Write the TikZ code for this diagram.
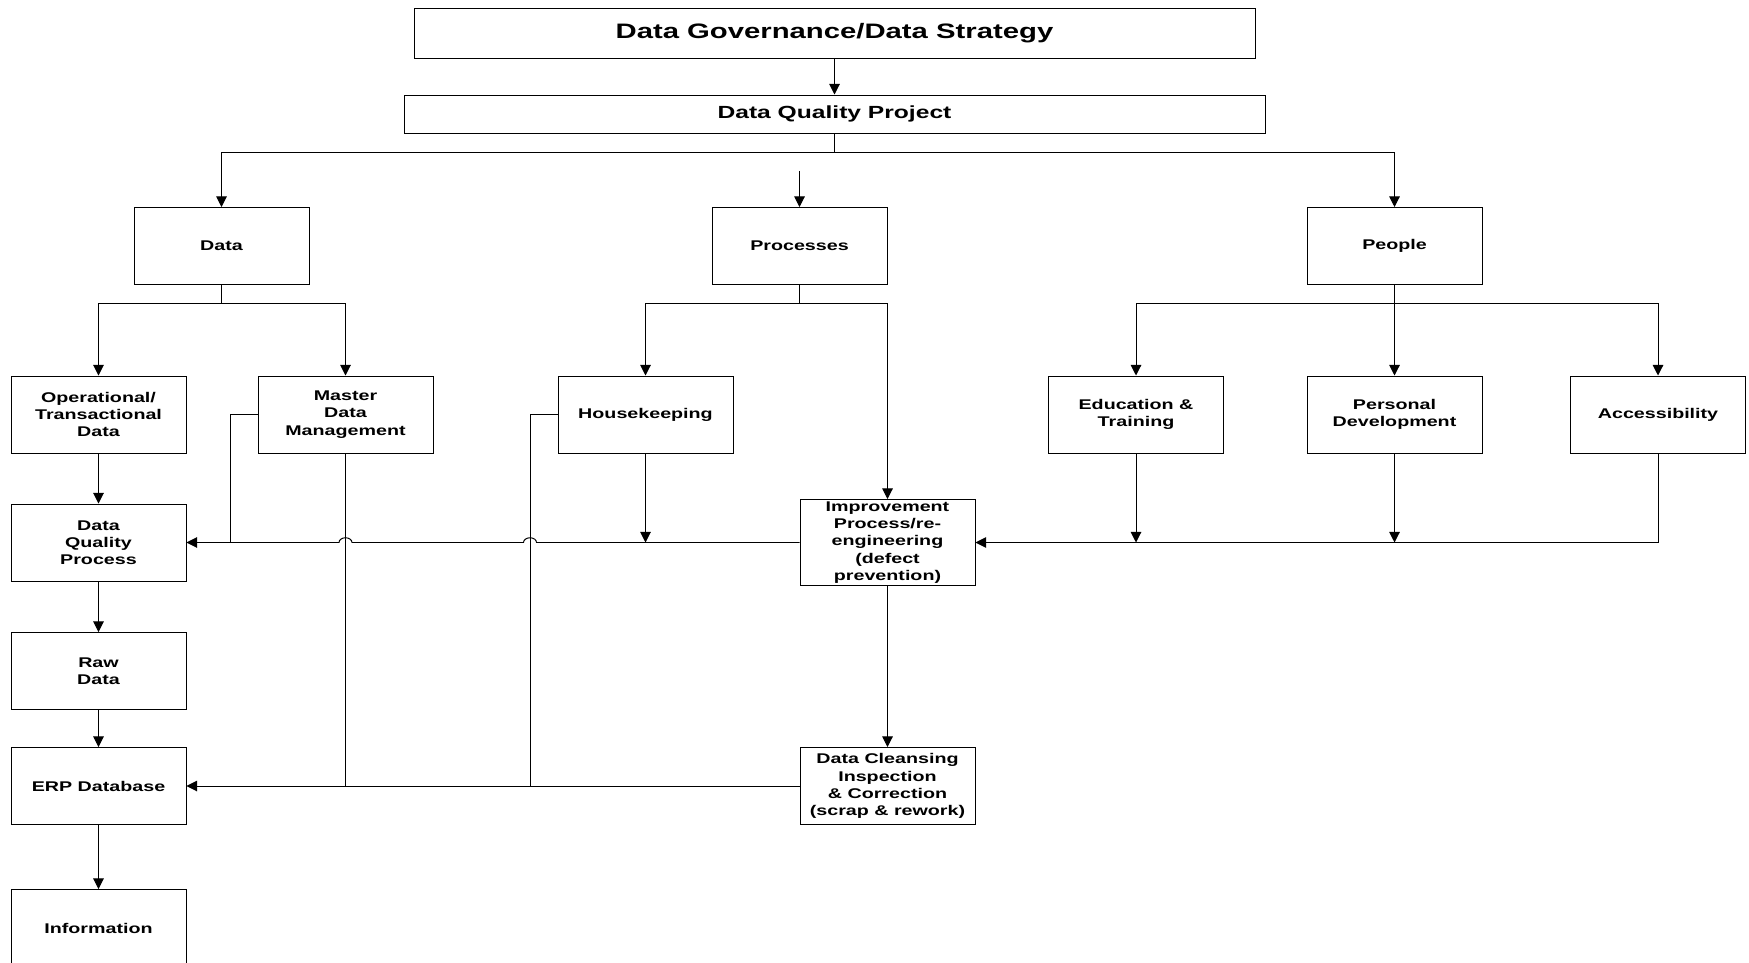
\documentclass[tikz,border=0pt]{standalone}
\usepackage{fontspec}
\setmainfont{Liberation Sans}[FakeStretch=1.4]
\usetikzlibrary{arrows.meta}

\tikzset{
  box/.style={draw, line width=0.55pt, minimum width=35mm, minimum height=15.4mm,
    align=center, inner sep=0.5pt, font=\bfseries\fontsize{8}{9.8}\selectfont},
  arr/.style={-{Triangle[length=6pt,width=6pt]}, line width=0.55pt},
  wire/.style={line width=0.55pt},
  hop/.style={start angle=0, end angle=180, x radius=1.3mm, y radius=0.95mm}
}

\begin{document}
\begin{tikzpicture}[x=0.2mm, y=-0.2mm]
  \clip (0,0) rectangle (1749,963);

  % top
  \node[box, minimum width=168.2mm, minimum height=10mm,
    font=\bfseries\fontsize{11.9}{14}\selectfont] (gov) at (834.5,33) {Data Governance/Data Strategy};
  \node[box, minimum width=172.2mm, minimum height=7.6mm,
    font=\bfseries\fontsize{10}{12}\selectfont] (dqp) at (834.5,114) {Data Quality Project};

  % first row
  \node[box] (data) at (221.5,246) {Data};
  \node[box] (proc) at (799.5,246) {Processes};
  \node[box] (people) at (1394.5,246) {People};

  % second row
  \node[box] (opdata) at (98.5,414.5) {Operational/\\Transactional\\Data};
  \node[box] (mdm) at (345.5,414.5) {Master\\Data\\Management};
  \node[box] (house) at (645.5,414.5) {Housekeeping};
  \node[box] (edu) at (1136,414.5) {Education \&\\Training};
  \node[box] (pdev) at (1394.5,414.5) {Personal\\Development};
  \node[box] (access) at (1658,414.5) {Accessibility};

  % lower part
  \node[box] (dqproc) at (98.5,542.5) {Data\\Quality\\Process};
  \node[box, minimum height=17.2mm] (improve) at (887.5,542.5) {Improvement\\Process/re-\\engineering\\(defect\\prevention)};
  \node[box] (raw) at (98.5,671) {Raw\\Data};
  \node[box] (erp) at (98.5,786) {ERP Database};
  \node[box] (cleanse) at (887.5,786) {Data Cleansing\\Inspection\\\& Correction\\(scrap \& rework)};
  \node[box] (info) at (98.5,928) {Information};

  \draw[arr] (gov) -- (dqp);
  \draw[arr] (dqp.south) -- ++(0,19) -| (data.north);
  \draw[arr] (dqp.south) -- ++(0,19) -| (people.north);
  \coordinate (procin) at (799.5,171);
  \draw[arr] (procin) -- (proc.north);

  \draw[arr] (data.south) -- ++(0,19) -| (opdata.north);
  \draw[arr] (data.south) -- ++(0,19) -| (mdm.north);
  \draw[arr] (proc.south) -- ++(0,19) -| (house.north);
  \draw[arr] (proc.south) -- ++(0,19) -| (improve.north);
  \draw[arr] (people.south) -- ++(0,19) -| (edu.north);
  \draw[arr] (people.south) -- (pdev.north);
  \draw[arr] (people.south) -- ++(0,19) -| (access.north);

  \draw[arr] (opdata) -- (dqproc);
  \draw[arr] (dqproc) -- (raw);
  \draw[arr] (raw) -- (erp);
  \draw[arr] (erp) -- (info);

  % side lines
  \draw[wire] (mdm.west) -- ++(-27.5,0) coordinate (mk) -- (mk |- dqproc.east);
  \draw[wire] (house.west) -- ++(-27.5,0) coordinate (hk) -- (hk |- erp.east);
  \draw[wire] (mdm.south) -- (mdm.south |- erp.east);

  % feedback line with hops
  \draw[arr] (improve.west) -- ([xshift=1.3mm]hk |- improve.west) arc[hop]
    -- ([xshift=1.3mm]mdm.south |- improve.west) arc[hop] -- (dqproc.east);
  \draw[arr] (house.south) -- (house.south |- improve.west);

  \draw[arr] (access.south) |- (improve.east);
  \draw[arr] (edu.south) -- (edu.south |- improve.east);
  \draw[arr] (pdev.south) -- (pdev.south |- improve.east);

  \draw[arr] (improve) -- (cleanse);
  \draw[arr] (cleanse.west) -- (erp.east);
\end{tikzpicture}
\end{document}
